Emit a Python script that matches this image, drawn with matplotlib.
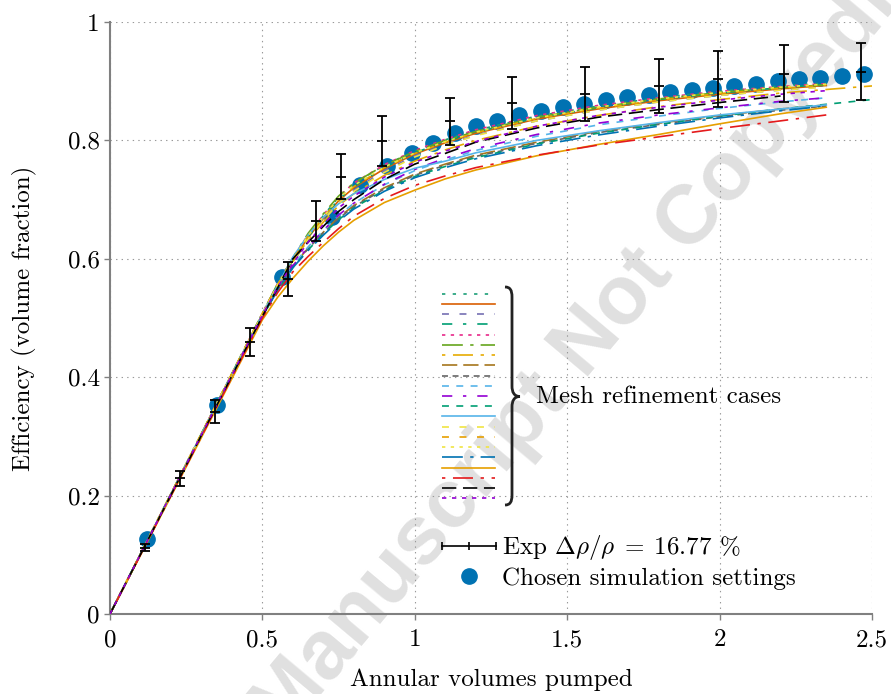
import numpy as np
import matplotlib
matplotlib.use('Agg')
import matplotlib.pyplot as plt
from matplotlib.lines import Line2D
from matplotlib.legend_handler import HandlerLine2D
from matplotlib.path import Path
from matplotlib.patches import PathPatch

plt.rcParams['font.family'] = ['cmr10']
plt.rcParams['mathtext.fontset'] = 'cm'
plt.rcParams['axes.unicode_minus'] = False
plt.rcParams['lines.scale_dashes'] = False

nan = np.nan

# experimental points (error bars)
exp_x = [0.115, 0.23, 0.345, 0.459, 0.585, 0.675, 0.757, 0.893, 1.115, 1.32, 1.56, 1.80, 1.994, 2.212, 2.464]
exp_y = [0.112, 0.229, 0.342, 0.459, 0.566, 0.664, 0.739, 0.799, 0.832, 0.863, 0.878, 0.892, 0.904, 0.913, 0.916]
exp_err = [0.006, 0.0125, 0.019, 0.024, 0.029, 0.034, 0.038, 0.042, 0.040, 0.044, 0.046, 0.046, 0.047, 0.048, 0.048]

# chosen simulation settings
sim_x = [0.12, 0.35, 0.563, 0.727, 0.82, 0.908, 0.99, 1.06, 1.131, 1.20, 1.271, 1.343, 1.414,
         1.485, 1.555, 1.627, 1.697, 1.768, 1.837, 1.908, 1.977, 2.048, 2.119, 2.19, 2.261,
         2.331, 2.402, 2.473]
sim_y = [0.127, 0.353, 0.570, 0.671, 0.725, 0.756, 0.778, 0.795, 0.812, 0.824, 0.833, 0.843, 0.850,
         0.856, 0.862, 0.868, 0.873, 0.877, 0.881, 0.885, 0.888, 0.892, 0.896, 0.900, 0.903,
         0.906, 0.909, 0.912]

# mesh refinement cases, all on the same x positions
mesh_x = [0, 0.5, 0.55, 0.6, 0.65, 0.7, 0.75, 0.8, 0.9, 1.0, 1.1, 1.2, 1.4, 1.6, 1.8, 2.0, 2.2, 2.35, 2.5]
case_01 = [0, .508, .557, .600, .640, .673, .704, .727, .758, .782, .801, .817, .841, .858, .872, .883, .892, .897, nan]
case_02 = [0, .506, .555, .597, .636, .668, .698, .720, .752, .777, .796, .812, .836, .853, .867, .878, .887, .893, nan]
case_03 = [0, .505, .553, .594, .632, .664, .694, .716, .749, .774, .793, .809, .833, .851, .865, .876, .885, .891, nan]
case_04 = [0, .507, .556, .598, .637, .670, .700, .722, .754, .779, .798, .814, .838, .855, .869, .880, .889, .895, nan]
case_05 = [0, .508, .558, .601, .641, .674, .705, .728, .759, .783, .802, .818, .842, .859, .872, .883, .891, .896, nan]
case_06 = [0, .508, .558, .602, .643, .676, .706, .728, .758, .781, .800, .815, .839, .856, .870, .881, .889, .894, nan]
case_07 = [0, .506, .554, .595, .632, .662, .690, .710, .741, .765, .784, .800, .824, .842, .857, .869, .880, .886, .892]
case_08 = [0, .503, .549, .588, .618, .645, .670, .690, .720, .743, .760, .775, .797, .815, .829, .842, .853, .860, nan]
case_09 = [0, .503, .548, .587, .617, .644, .668, .688, .718, .741, .758, .773, .795, .813, .827, .840, .851, .858, nan]
case_10 = [0, .503, .549, .589, .620, .648, .673, .694, .725, .749, .767, .783, .807, .826, .841, .854, .865, .872, nan]
case_11 = [0, .503, .548, .588, .620, .648, .674, .694, .726, .751, .770, .786, .810, .829, .843, .855, .866, .872, nan]
case_12 = [0, .502, .547, .585, .615, .642, .666, .686, .716, .739, .756, .771, .794, .812, .827, .841, .853, .861, .869]
case_13 = [0, .506, .555, .603, .640, .670, .693, .710, .734, .753, .765, .779, .800, .816, .830, .843, .853, .860, nan]
case_14 = [0, .507, .555, .596, .634, .665, .694, .714, .746, .772, .792, .808, .833, .851, .865, .876, .885, .890, nan]
case_15 = [0, .508, .557, .599, .638, .670, .700, .722, .754, .778, .797, .813, .837, .854, .868, .879, .888, .893, nan]
case_16 = [0, .507, .556, .599, .639, .671, .702, .724, .755, .779, .798, .814, .838, .856, .870, .881, .890, .895, nan]
case_17 = [0, .502, .547, .585, .614, .640, .664, .684, .714, .737, .754, .769, .791, .809, .824, .838, .850, .858, nan]
case_18 = [0, .497, .535, .567, .596, .622, .645, .665, .695, .716, .735, .750, .774, .793, .810, .828, .845, .856, nan]
case_19 = [0, .500, .543, .578, .604, .628, .651, .672, .702, .724, .740, .754, .775, .792, .806, .820, .833, .843, nan]
case_20 = [0, .503, .551, .600, .628, .655, .680, .700, .734, .760, .778, .797, .821, .839, .852, .864, .875, nan, nan]
case_21 = [0, .505, .552, .592, .628, .658, .686, .706, .738, .763, .782, .798, .824, .842, .856, .868, .878, .884, nan]

mesh_cases = [case_01, case_02, case_03, case_04, case_05, case_06, case_07, case_08, case_09, case_10,
              case_11, case_12, case_13, case_14, case_15, case_16, case_17, case_18, case_19, case_20, case_21]

mesh_styles = [
    ('#1b9e77', (0, (2.4, 5.3))),
    ('#d95f02', '-'),
    ('#7570b3', (0, (5, 7.6))),
    ('#009e73', (0, (7.4, 7.7, 2.4, 7.9))),
    ('#e7298a', (0, (2.4, 3.9))),
    ('#66a61e', (0, (15, 5.3, 2.4, 5.1))),
    ('#e6ab02', (0, (2.4, 5.5, 14.4, 5.5))),
    ('#a6761d', (0, (11, 4.3))),
    ('#666666', (0, (4.3, 3.3))),
    ('#56b4e9', (0, (5, 5.3))),
    ('#9400d3', (0, (7.4, 7.7, 2.4, 7.9))),
    ('#009e73', (0, (5, 5.3))),
    ('#56b4e9', '-'),
    ('#f0e442', (0, (5, 7.6))),
    ('#e69f00', (0, (5, 7.6))),
    ('#f0e442', (0, (2.4, 3.9))),
    ('#0072b2', (0, (15, 5.3, 2.4, 5.1))),
    ('#e69f00', '-'),
    ('#e41a1c', (0, (2.4, 5.5, 14.4, 5.5))),
    ('k', (0, (10.3, 4.8))),
    ('#9400d3', (0, (3.1, 4.1))),
]

x_ticks = [0, 0.5, 1, 1.5, 2, 2.5]
x_tick_labels = ['0', '0.5', '1', '1.5', '2', '2.5']
y_ticks = [0, 0.2, 0.4, 0.6, 0.8, 1]
y_tick_labels = ['0', '0.2', '0.4', '0.6', '0.8', '1']

fig = plt.figure(figsize=(8.91, 6.94), dpi=100)
ax = fig.add_axes([110 / 891, 1 - 614 / 694, 762 / 891, 592 / 694])
ax.patch.set_facecolor('none')

# watermark
fig.text(488 / 891, 1 - 462 / 694, 'Accepted Manuscript Not Copyedited', fontsize=60, fontweight='bold',
         family='Liberation Sans', color='#e0e0e0', rotation=50, ha='center', va='center',
         rotation_mode='anchor', zorder=-1)

blue = '#0072b2'
ax.plot(sim_x, sim_y, ls='none', marker='o', ms=11, color=blue, zorder=2)

mesh_lines = []
for ys, (c, ls) in zip(mesh_cases, mesh_styles):
    ln, = ax.plot(mesh_x, ys, color=c, ls=ls, lw=1.2, zorder=3)
    mesh_lines.append(ln)

ax.errorbar(exp_x, exp_y, yerr=exp_err, fmt='_', ms=7, mew=1.3, color='k', ecolor='k',
            elinewidth=1.3, capsize=3.5, capthick=1.3, zorder=4)

ax.set_xlim(0, 2.5)
ax.set_ylim(0, 1)
ax.set_xticks(x_ticks)
ax.set_xticklabels(x_tick_labels)
ax.set_yticks(y_ticks)
ax.set_yticklabels(y_tick_labels)
ax.tick_params(labelsize=18, colors='#808080', labelcolor='k', length=4, width=1, direction='out')
ax.tick_params(axis='x', pad=7)
ax.grid(True, color='#999999', ls=(0, (1, 3)), lw=0.8)
for s in ['top', 'right']:
    ax.spines[s].set_visible(False)
for s in ['left', 'bottom']:
    ax.spines[s].set_color('#808080')
    ax.spines[s].set_linewidth(1.5)
ax.set_xlabel('Annular volumes pumped', fontsize=18, labelpad=12)
ax.set_ylabel('Efficiency (volume fraction)', fontsize=18, labelpad=22)

leg1 = ax.legend(mesh_lines, [''] * len(mesh_lines), loc='center left',
                 bbox_to_anchor=((442 - 110) / 762, (614 - 396.5) / 592), frameon=False,
                 fontsize=5, handlelength=7.6, handleheight=0.7, labelspacing=0.63,
                 borderpad=0, borderaxespad=0, handletextpad=0)
ax.add_artist(leg1)

exp_handle = Line2D([], [], color='k', lw=1.2, marker='|', ms=6, mew=1.2)
sim_handle = Line2D([], [], color=blue, ls='none', marker='o', ms=11)
leg2 = ax.legend([exp_handle, sim_handle],
                 [r'Exp $\Delta\rho/\rho\;=\;16.77$ %', 'Chosen simulation settings'],
                 handler_map={exp_handle: HandlerLine2D(numpoints=3, marker_pad=0),
                              sim_handle: HandlerLine2D(numpoints=1)},
                 loc='center left', bbox_to_anchor=((442 - 110) / 762, (614 - 561.5) / 592),
                 frameon=False, fontsize=18, handlelength=2.16, handletextpad=0.24,
                 labelspacing=0.2, borderpad=0, borderaxespad=0)

# brace grouping the mesh cases
def fp(px, py):
    return (px / 891, 1 - py / 694)

verts = [fp(505, 287), fp(510, 287), fp(512, 290), fp(512, 297),
         fp(512, 386),
         fp(512, 392), fp(514, 396.5), fp(520, 396.5),
         fp(514, 396.5), fp(512, 401), fp(512, 407),
         fp(512, 495),
         fp(512, 502), fp(510, 505), fp(505, 505)]
codes = [Path.MOVETO, Path.CURVE4, Path.CURVE4, Path.CURVE4,
         Path.LINETO,
         Path.CURVE4, Path.CURVE4, Path.CURVE4,
         Path.CURVE4, Path.CURVE4, Path.CURVE4,
         Path.LINETO,
         Path.CURVE4, Path.CURVE4, Path.CURVE4]
fig.add_artist(PathPatch(Path(verts, codes), facecolor='none', edgecolor='#222222', lw=2.0,
                         transform=fig.transFigure))
fig.text(536 / 891, 1 - 396.5 / 694, 'Mesh refinement cases', fontsize=18, ha='left', va='center')

fig.savefig('out.png', dpi=100)
